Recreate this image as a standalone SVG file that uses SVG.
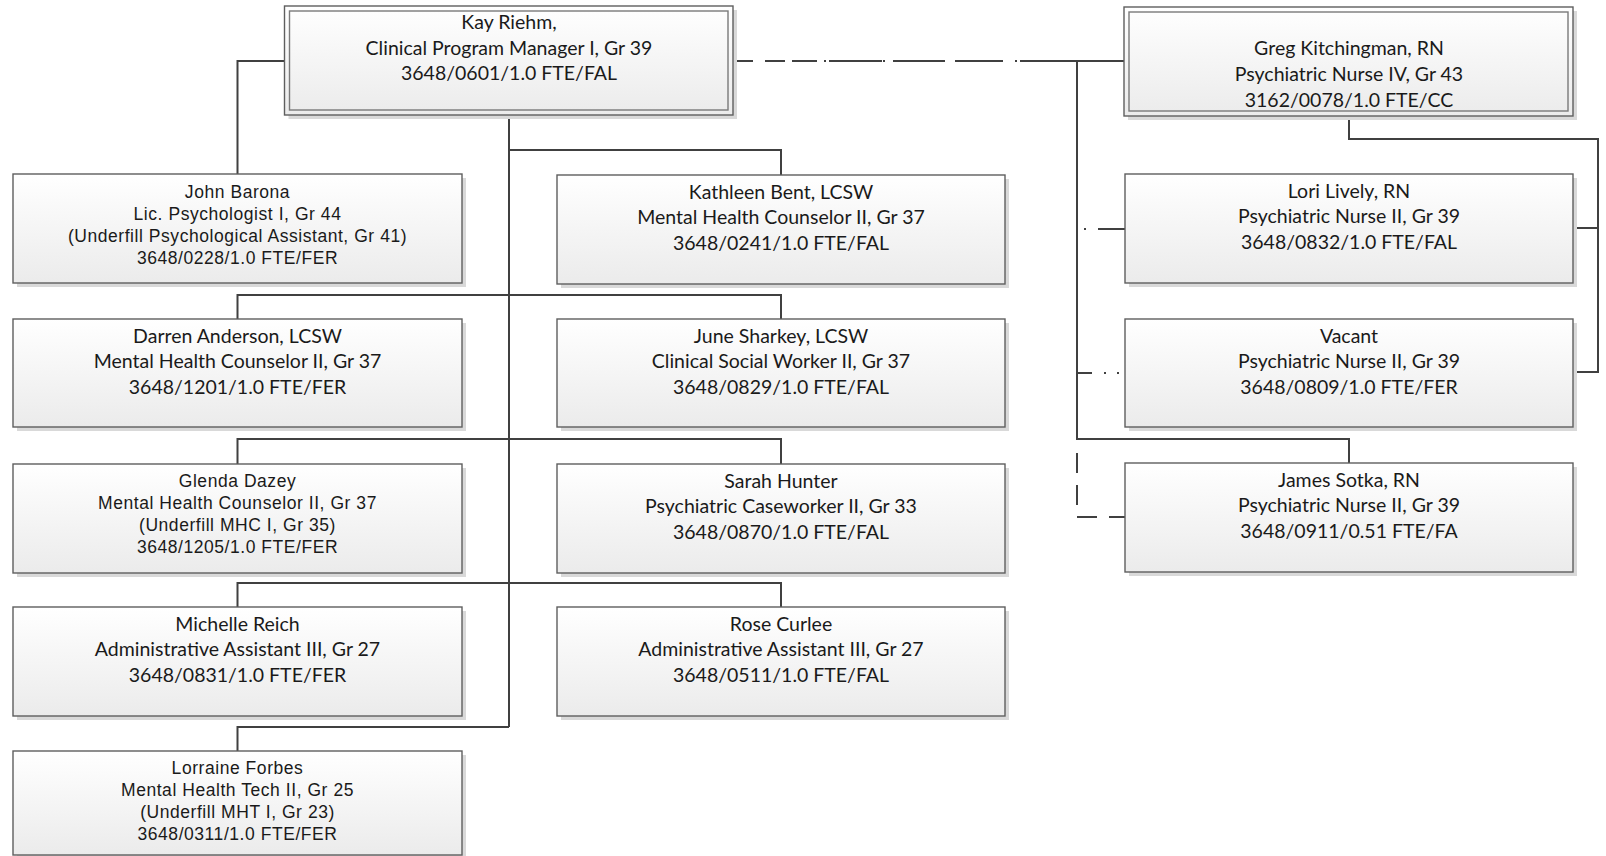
<svg xmlns="http://www.w3.org/2000/svg" width="1606" height="856" viewBox="0 0 1606 856">
<defs>
<linearGradient id="g" x1="0" y1="0" x2="0" y2="1">
<stop offset="0" stop-color="#ffffff"/>
<stop offset="1" stop-color="#ebebeb"/>
</linearGradient>
<style>
.sh{fill:#d9d9d9;stroke:none}
.bx{fill:url(#g);stroke:#5e5e5e;stroke-width:1.4}
.in{fill:none;stroke:#7a7a7a;stroke-width:1.4}
.c{font-family:Lato,"Noto Sans",sans-serif;font-size:19.5px;fill:#1a1a1a;text-anchor:middle}
.a{font-family:"Liberation Sans",Arial,sans-serif;font-size:17.5px;fill:#1a1a1a;text-anchor:middle;letter-spacing:0.55px}
.ln{fill:none;stroke:#404040;stroke-width:2}
</style>
</defs>
<rect width="1606" height="856" fill="#ffffff"/>
<g id="connectors">
<path class="ln" d="M284,61 H237.5 V174"/>
<path class="ln" d="M509,115 V727"/>
<path class="ln" d="M509,150 H781 V175"/>
<path class="ln" d="M237.5,319 V295 H781 V319"/>
<path class="ln" d="M237.5,464 V439 H781 V464"/>
<path class="ln" d="M237.5,607 V583 H781 V607"/>
<path class="ln" d="M509,727 H237.5 V751"/>
<path class="ln" d="M1124,61 H1077 V439 H1349 V463"/>
<path class="ln" d="M1349,116 V139 H1598 V372 H1573 M1598,228 H1573"/>
<path class="ln" d="M733,61 H753 M765,61 H785 M792,61 H817 M824,61 H826 M829,61 H882 M883,61 H885 M893,61 H945 M955,61 H1003 M1015,61 H1017 M1020,61 H1077"/>
<path class="ln" d="M1084,229 H1086 M1098,229 H1125"/>
<path class="ln" d="M1077,373 H1092 M1104,373 H1106 M1117,373 H1119"/>
<path class="ln" d="M1077,453 V473 M1077,485 V505 M1077,517 H1097 M1109,517 H1125"/>
</g>
<g id="kay">
<rect class="sh" x="288.5" y="10" width="448.5" height="109"/>
<rect class="bx" x="284.5" y="6" width="448.5" height="109"/>
<rect class="in" x="289.5" y="11" width="438.5" height="99"/>
<text class="c" x="509" y="28.5">Kay Riehm,</text>
<text class="c" x="509" y="54.5">Clinical Program Manager I, Gr 39</text>
<text class="c" x="509" y="80">3648/0601/1.0 FTE/FAL</text>
</g>
<g id="greg">
<rect class="sh" x="1128" y="11" width="449" height="109"/>
<rect class="bx" x="1124" y="7" width="449" height="109"/>
<rect class="in" x="1129" y="12" width="439" height="99"/>
<text class="c" x="1349" y="55">Greg Kitchingman, RN</text>
<text class="c" x="1349" y="81">Psychiatric Nurse IV, Gr 43</text>
<text class="c" x="1349" y="106.5">3162/0078/1.0 FTE/CC</text>
</g>
<g id="john">
<rect class="sh" x="17" y="178" width="449" height="109"/>
<rect class="bx" x="13" y="174" width="449" height="109"/>
<text class="a" x="237.5" y="198">John Barona</text>
<text class="a" x="237.5" y="220">Lic. Psychologist I, Gr 44</text>
<text class="a" x="237.5" y="242">(Underfill Psychological Assistant, Gr 41)</text>
<text class="a" x="237.5" y="264">3648/0228/1.0 FTE/FER</text>
</g>
<g id="kathleen">
<rect class="sh" x="561" y="179" width="448" height="109"/>
<rect class="bx" x="557" y="175" width="448" height="109"/>
<text class="c" x="781" y="198.5">Kathleen Bent, LCSW</text>
<text class="c" x="781" y="224">Mental Health Counselor II, Gr 37</text>
<text class="c" x="781" y="249.5">3648/0241/1.0 FTE/FAL</text>
</g>
<g id="lori">
<rect class="sh" x="1129" y="178" width="448" height="109"/>
<rect class="bx" x="1125" y="174" width="448" height="109"/>
<text class="c" x="1349" y="197.5">Lori Lively, RN</text>
<text class="c" x="1349" y="223">Psychiatric Nurse II, Gr 39</text>
<text class="c" x="1349" y="248.5">3648/0832/1.0 FTE/FAL</text>
</g>
<g id="darren">
<rect class="sh" x="17" y="323" width="449" height="108"/>
<rect class="bx" x="13" y="319" width="449" height="108"/>
<text class="c" x="237.5" y="342.5">Darren Anderson, LCSW</text>
<text class="c" x="237.5" y="368">Mental Health Counselor II, Gr 37</text>
<text class="c" x="237.5" y="393.5">3648/1201/1.0 FTE/FER</text>
</g>
<g id="june">
<rect class="sh" x="561" y="323" width="448" height="108"/>
<rect class="bx" x="557" y="319" width="448" height="108"/>
<text class="c" x="781" y="342.5">June Sharkey, LCSW</text>
<text class="c" x="781" y="368">Clinical Social Worker II, Gr 37</text>
<text class="c" x="781" y="393.5">3648/0829/1.0 FTE/FAL</text>
</g>
<g id="vacant">
<rect class="sh" x="1129" y="323" width="448" height="108"/>
<rect class="bx" x="1125" y="319" width="448" height="108"/>
<text class="c" x="1349" y="342.5">Vacant</text>
<text class="c" x="1349" y="368">Psychiatric Nurse II, Gr 39</text>
<text class="c" x="1349" y="393.5">3648/0809/1.0 FTE/FER</text>
</g>
<g id="glenda">
<rect class="sh" x="17" y="468" width="449" height="109"/>
<rect class="bx" x="13" y="464" width="449" height="109"/>
<text class="a" x="237.5" y="487">Glenda Dazey</text>
<text class="a" x="237.5" y="509">Mental Health Counselor II, Gr 37</text>
<text class="a" x="237.5" y="531">(Underfill MHC I, Gr 35)</text>
<text class="a" x="237.5" y="553">3648/1205/1.0 FTE/FER</text>
</g>
<g id="sarah">
<rect class="sh" x="561" y="468" width="448" height="109"/>
<rect class="bx" x="557" y="464" width="448" height="109"/>
<text class="c" x="781" y="487.5">Sarah Hunter</text>
<text class="c" x="781" y="513">Psychiatric Caseworker II, Gr 33</text>
<text class="c" x="781" y="538.5">3648/0870/1.0 FTE/FAL</text>
</g>
<g id="james">
<rect class="sh" x="1129" y="467" width="448" height="109"/>
<rect class="bx" x="1125" y="463" width="448" height="109"/>
<text class="c" x="1349" y="486.5">James Sotka, RN</text>
<text class="c" x="1349" y="512">Psychiatric Nurse II, Gr 39</text>
<text class="c" x="1349" y="537.5">3648/0911/0.51 FTE/FA</text>
</g>
<g id="michelle">
<rect class="sh" x="17" y="611" width="449" height="109"/>
<rect class="bx" x="13" y="607" width="449" height="109"/>
<text class="c" x="237.5" y="630.5">Michelle Reich</text>
<text class="c" x="237.5" y="656">Administrative Assistant III, Gr 27</text>
<text class="c" x="237.5" y="681.5">3648/0831/1.0 FTE/FER</text>
</g>
<g id="rose">
<rect class="sh" x="561" y="611" width="448" height="109"/>
<rect class="bx" x="557" y="607" width="448" height="109"/>
<text class="c" x="781" y="630.5">Rose Curlee</text>
<text class="c" x="781" y="656">Administrative Assistant III, Gr 27</text>
<text class="c" x="781" y="681.5">3648/0511/1.0 FTE/FAL</text>
</g>
<g id="lorraine">
<rect class="sh" x="17" y="755" width="449" height="104"/>
<rect class="bx" x="13" y="751" width="449" height="104"/>
<text class="a" x="237.5" y="774">Lorraine Forbes</text>
<text class="a" x="237.5" y="796">Mental Health Tech II, Gr 25</text>
<text class="a" x="237.5" y="818">(Underfill MHT I, Gr 23)</text>
<text class="a" x="237.5" y="840">3648/0311/1.0 FTE/FER</text>
</g>
</svg>
